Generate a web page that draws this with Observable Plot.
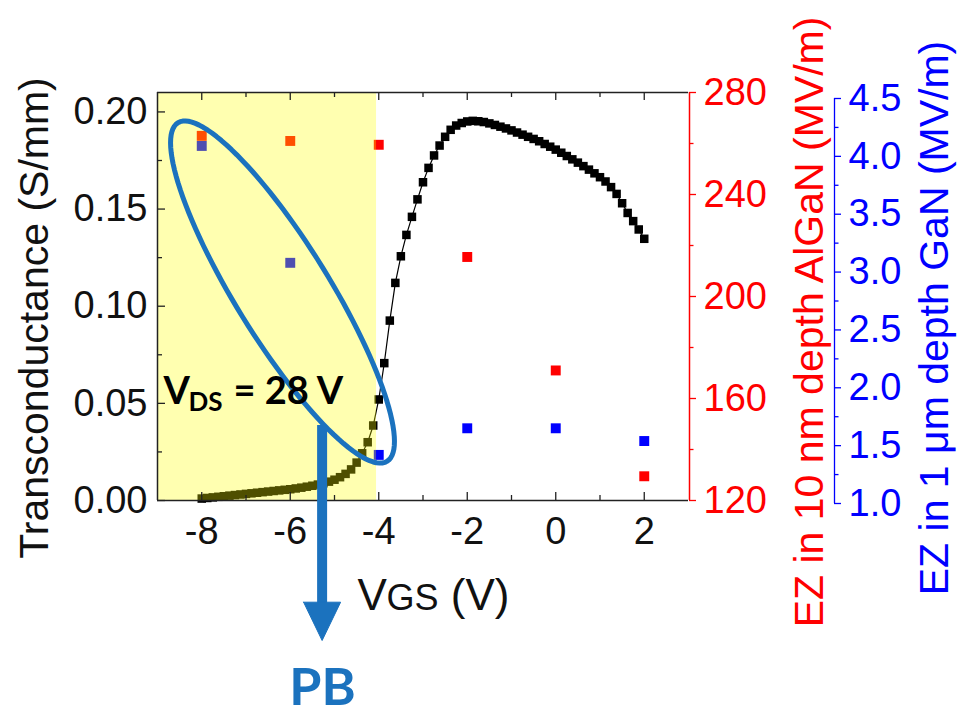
<!DOCTYPE html>
<html><head><meta charset="utf-8">
<script src="https://cdn.jsdelivr.net/npm/d3@7"></script>
<script src="https://cdn.jsdelivr.net/npm/@observablehq/plot@0.6"></script>
<style>html,body{margin:0;padding:0;background:#fff;} #chart svg{display:block;}</style>
</head><body><div id="chart"></div>
<script>
// ---- data ----
const vgs = [-8,-7.875,-7.75,-7.625,-7.5,-7.375,-7.25,-7.125,-7,-6.875,-6.75,-6.625,-6.5,-6.375,-6.25,-6.125,
  -6,-5.875,-5.75,-5.625,-5.5,-5.375,-5.25,-5.125,-5,-4.875,-4.75,-4.625,-4.5,-4.375,-4.25,-4.125,
  -4,-3.875,-3.75,-3.625,-3.5,-3.375,-3.25,-3.125,-3,-2.875,-2.75,-2.625,-2.5,-2.375,-2.25,-2.125,
  -2,-1.875,-1.75,-1.625,-1.5,-1.375,-1.25,-1.125,-1,-0.875,-0.75,-0.625,-0.5,-0.375,-0.25,-0.125,
  0,0.125,0.25,0.375,0.5,0.625,0.75,0.875,1,1.125,1.25,1.375,1.5,1.625,1.75,1.875,2];
const gm = [0.0010,0.0013,0.0016,0.0019,0.0022,0.0025,0.0028,0.0031,0.0034,0.0037,0.0040,0.0043,0.0046,0.0049,0.0052,0.0055,
  0.0058,0.0062,0.0066,0.0071,0.0076,0.0082,0.0089,0.0097,0.0107,0.0120,0.0137,0.0160,0.0195,0.0243,0.0300,0.0386,
  0.0520,0.0707,0.0926,0.1120,0.1257,0.1367,0.1460,0.1550,0.1638,0.1712,0.1776,0.1827,0.1872,0.1908,0.1930,0.1943,
  0.1951,0.1954,0.1952,0.1948,0.1941,0.1933,0.1924,0.1915,0.1905,0.1894,0.1883,0.1872,0.1861,0.1849,0.1835,0.1821,
  0.1806,0.1790,0.1773,0.1756,0.1739,0.1721,0.1703,0.1684,0.1664,0.1642,0.1613,0.1578,0.1530,0.1480,0.1438,0.1395,0.1347];
const fieldVgs = [-8,-6,-4,-2,0,2];
const ezAlGaN = [263,261,259.5,215.5,171,129.5];   // MV/m, red axis
const ezGaN = [4.09,3.08,1.42,1.65,1.65,1.54];      // MV/m, blue axis

const xMajor = [-8,-6,-4,-2,0,2];
const xMinor = [-7,-5,-3,-1,1];
const gmMajor = [0,0.05,0.10,0.15,0.20];
const gmMinor = [0.025,0.075,0.125,0.175];
const redMajor = [120,160,200,240,280];
const redMinor = [140,180,220,260];
const blueMajor = [1.0,1.5,2.0,2.5,3.0,3.5,4.0,4.5];
const blueMinor = [1.25,1.75,2.25,2.75,3.25,3.75,4.25];

const xLabel = ["V","GS"," (V)"];
const yLabel = "Transconductance (S/mm)";
const redLabel = "EZ in 10 nm depth AlGaN (MV/m)";
const blueLabel = "EZ in 1 \u03bcm depth GaN (MV/m)";
const vdsLabel = ["V","DS","= 28 V"];
const pbLabel = "PB";

// ---- layout helpers ----
const W = 961, H = 717;
const mL = 157, mR = 273, mT = 92, mB = 214;
const xDom = [-9, 3];
const gmTop = 0.21;
const kx = (W - mL - mR) / (xDom[1] - xDom[0]);   // px per volt
const ky = 408 / gmTop;                           // px per S/mm
const yDom = [-3 / ky, gmTop];
const toRed = v => (v - 120) / 160 * gmTop;
const toBlue = b => (-3 + (b - 1) * 405 / 3.5) / ky;
const BLUE_DX = 146;
const ANN = "#1b72be";
const RED = "#ff0000", BLUEC = "#0000ff";
const sansF = "Liberation Sans, Arial, sans-serif";
const boldF = "Lato, Calibri, sans-serif";

const gmData = vgs.map((v, i) => ({v, g: gm[i]}));
const fieldData = fieldVgs.map((v, i) => ({v, r: ezAlGaN[i], b: ezGaN[i]}));

// highlighted region and annotations (data units)
const shadeX = [-9, -4.05];
const ell = {cx: -6.175, cy: 0.1073, a: 199, b: 47, deg: 58.3};
const ellPts = d3.range(0, 361, 3).map(t => {
  const r = t * Math.PI / 180, th = ell.deg * Math.PI / 180;
  const px = ell.a * Math.cos(r) * Math.cos(th) - ell.b * Math.sin(r) * Math.sin(th);
  const py = ell.a * Math.cos(r) * Math.sin(th) + ell.b * Math.sin(r) * Math.cos(th);
  return {x: ell.cx + px / kx, y: ell.cy - py / ky};
});
const arrow = {x: -5.28, y1: 0.0386, y2: -104 / ky, headTop: -101.7 / ky, tip: -140 / ky, half: 18.5 / kx};
const headPts = [
  {x: arrow.x - arrow.half, y: arrow.headTop},
  {x: arrow.x + arrow.half, y: arrow.headTop},
  {x: arrow.x, y: arrow.tip},
  {x: arrow.x - arrow.half, y: arrow.headTop}
];

const chart = Plot.plot({
  width: W, height: H,
  marginLeft: mL, marginRight: mR, marginTop: mT, marginBottom: mB,
  x: {domain: xDom, axis: null},
  y: {domain: yDom, axis: null},
  style: {fontFamily: sansF, background: "#fff", overflow: "visible"},
  marks: [
    // data
    Plot.line(gmData, {x: "v", y: "g", stroke: "#000", strokeWidth: 1.2}),
    Plot.dot(gmData, {x: "v", y: "g", symbol: "square", r: 4.8, fill: "#000", stroke: "none"}),
    Plot.dot(fieldData, {x: "v", y: d => toRed(d.r), symbol: "square", r: 5.6, fill: RED, stroke: "none"}),
    Plot.dot(fieldData, {x: "v", y: d => toBlue(d.b), symbol: "square", r: 5.6, fill: BLUEC, stroke: "none"}),
    // yellow translucent highlight
    Plot.rect([0], {x1: shadeX[0], x2: shadeX[1], y1: 0, y2: gmTop, fill: "#ffff00", fillOpacity: 0.31}),
    // frame
    Plot.ruleY([0], {x1: xDom[0], x2: xDom[1], stroke: "#222", strokeWidth: 1.5}),
    Plot.ruleY([gmTop], {x1: xDom[0], x2: xDom[1], stroke: "#222", strokeWidth: 1.5}),
    Plot.ruleX([xDom[0]], {y1: 0, y2: gmTop, stroke: "#222", strokeWidth: 1.5}),
    Plot.ruleX([xDom[1]], {y1: 0, y2: gmTop, stroke: RED, strokeWidth: 1.5, dx: 1}),
    // x ticks (inward) bottom & top
    Plot.ruleX(xMajor, {x: d => d, y1: 0, y2: 8 / ky, stroke: "#222", strokeWidth: 1.3}),
    Plot.ruleX(xMinor, {x: d => d, y1: 0, y2: 5 / ky, stroke: "#222", strokeWidth: 1.3}),
    Plot.ruleX(xMajor, {x: d => d, y1: gmTop, y2: gmTop - 8 / ky, stroke: "#222", strokeWidth: 1.3}),
    Plot.ruleX(xMinor, {x: d => d, y1: gmTop, y2: gmTop - 5 / ky, stroke: "#222", strokeWidth: 1.3}),
    // left ticks (inward)
    Plot.ruleY(gmMajor, {y: d => d, x1: xDom[0], x2: xDom[0] + 8 / kx, stroke: "#222", strokeWidth: 1.3}),
    Plot.ruleY(gmMinor, {y: d => d, x1: xDom[0], x2: xDom[0] + 5 / kx, stroke: "#222", strokeWidth: 1.3}),
    // red axis ticks (outward)
    Plot.ruleY(redMajor, {y: toRed, x1: xDom[1], x2: xDom[1] + 7 / kx, dx: 1, stroke: RED, strokeWidth: 1.3}),
    Plot.ruleY(redMinor, {y: toRed, x1: xDom[1], x2: xDom[1] + 4.5 / kx, dx: 1, stroke: RED, strokeWidth: 1.3}),
    // blue axis
    Plot.ruleX([xDom[1]], {y1: toBlue(1), y2: toBlue(4.5), dx: BLUE_DX, stroke: BLUEC, strokeWidth: 1.3}),
    Plot.ruleY(blueMajor, {y: toBlue, x1: xDom[1], x2: xDom[1] + 7 / kx, dx: BLUE_DX, stroke: BLUEC, strokeWidth: 1.3}),
    Plot.ruleY(blueMinor, {y: toBlue, x1: xDom[1], x2: xDom[1] + 4.5 / kx, dx: BLUE_DX, stroke: BLUEC, strokeWidth: 1.3}),
    // tick labels
    Plot.text(xMajor, {x: d => d, y: 0, text: d => String(d), lineAnchor: "top", dy: 17, fontSize: 38, fill: "#111"}),
    Plot.text(gmMajor, {x: xDom[0], y: d => d, text: d => d.toFixed(2), textAnchor: "end", dx: -10, fontSize: 38, fill: "#111"}),
    Plot.text(redMajor, {x: xDom[1], y: toRed, text: d => String(d), textAnchor: "start", dx: 15, fontSize: 38, fill: RED}),
    Plot.text(blueMajor, {x: xDom[1], y: toBlue, text: d => d.toFixed(1), textAnchor: "start", dx: BLUE_DX + 14, fontSize: 38, fill: BLUEC}),
    // axis titles
    Plot.text([yLabel], {frameAnchor: "left", textAnchor: "middle", lineAnchor: "middle", dx: -123, dy: 20, rotate: -90, fontSize: 41, fill: "#111"}),
    Plot.text([redLabel], {frameAnchor: "right", textAnchor: "middle", lineAnchor: "middle", dx: 121, dy: 24, rotate: -90, fontSize: 41, fill: RED}),
    Plot.text([blueLabel], {frameAnchor: "right", textAnchor: "middle", lineAnchor: "middle", dx: 246, dy: 20, rotate: -90, fontSize: 41, fill: BLUEC}),
    Plot.text([xLabel[0]], {frameAnchor: "bottom-left", dx: 200, dy: 106, lineAnchor: "bottom", textAnchor: "start", fontSize: 44, fill: "#111"}),
    Plot.text([xLabel[1]], {frameAnchor: "bottom-left", dx: 229, dy: 106, lineAnchor: "bottom", textAnchor: "start", fontSize: 36, fill: "#111"}),
    Plot.text([xLabel[2]], {frameAnchor: "bottom-left", dx: 281, dy: 106, lineAnchor: "bottom", textAnchor: "start", fontSize: 44, fill: "#111"}),
    // annotations
    Plot.line(ellPts, {x: "x", y: "y", stroke: ANN, strokeWidth: 5}),
    Plot.ruleX([arrow.x], {y1: arrow.y1, y2: arrow.y2, stroke: ANN, strokeWidth: 10}),
    Plot.line(headPts, {x: "x", y: "y", fill: ANN, stroke: ANN, strokeWidth: 1}),
    Plot.text([vdsLabel[0]], {frameAnchor: "top-left", dx: 6, dy: 311, lineAnchor: "bottom", textAnchor: "start", fontSize: 38, fontWeight: "bold", fontFamily: boldF, fill: "#000"}),
    Plot.text([vdsLabel[1]], {frameAnchor: "top-left", dx: 31, dy: 318, lineAnchor: "bottom", textAnchor: "start", fontSize: 26, fontWeight: "bold", fontFamily: boldF, fill: "#000"}),
    Plot.text([vdsLabel[2]], {frameAnchor: "top-left", dx: 76, dy: 311, lineAnchor: "bottom", textAnchor: "start", fontSize: 38, fontWeight: "bold", fontFamily: boldF, fill: "#000"}),
    Plot.text([pbLabel], {frameAnchor: "bottom-left", dx: 165, dy: 201, lineAnchor: "bottom", textAnchor: "middle", fontSize: 52, fontWeight: "bold", fontFamily: boldF, fill: ANN})
  ]
});
document.getElementById("chart").appendChild(chart);
</script>
</body></html>
